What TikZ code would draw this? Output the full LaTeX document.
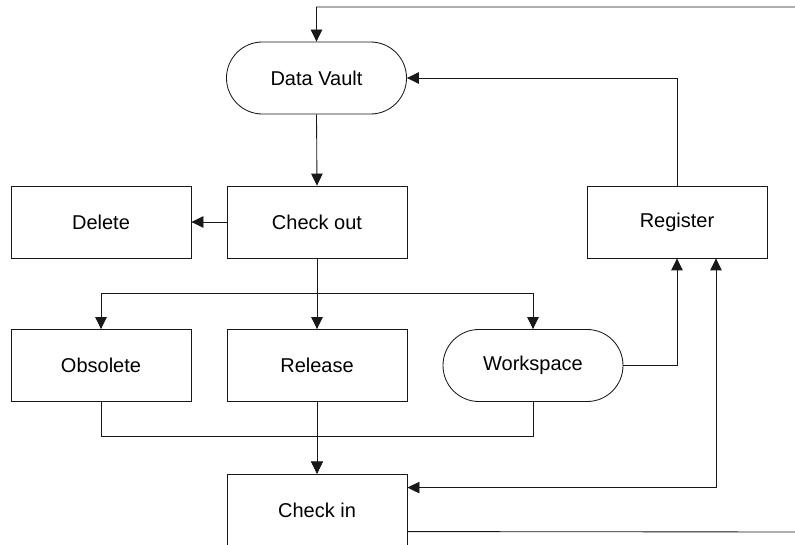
\documentclass[tikz,border=0pt]{standalone}
\usepackage{fontspec}
\setmainfont{Liberation Sans}
\usetikzlibrary{arrows.meta,calc}
\begin{document}
\begin{tikzpicture}[x=1pt,y=-1pt,
  every node/.style={font=\fontsize{20}{24}\selectfont},
  box/.style={draw=black!90,line width=0.85pt,minimum width=180pt,minimum height=72pt,inner sep=0pt,fill=white},
  stadium/.style={box,rounded corners=35.9pt},
  conn/.style={draw=black!90,line width=0.85pt},
  arr/.style={conn,-{Triangle[length=12pt,width=11.5pt]}},
  darr/.style={conn,{Triangle[length=12pt,width=11.5pt]}-{Triangle[length=12pt,width=11.5pt]}}]
\useasboundingbox (0,0) rectangle (795,545);
\clip (0,0) rectangle (795,545);

% nodes
\node[stadium] (dv) at (316.5,78) {Data Vault};
\node[box] (del) at (101,222) {Delete};
\node[box] (co) at (317,222) {Check out};
\node[box] (reg) at (677,222) {Register};
\node[box] (obs) at (101,365.5) {Obsolete};
\node[box] (rel) at (317,365.5) {Release};
\node[stadium] (ws) at (533,365.5) {Workspace};
\node[box] (ci) at (317,510) {Check in};

% branching and merging points
\coordinate (br) at (317,293);
\coordinate (mg) at (317,436.5);
\coordinate (ciR) at ($(ci.north east)+(0,14)$);
\coordinate (ciLow) at ($(ci.north east)+(0,58)$);
\coordinate (regR) at ($(reg.south)+(39,0)$);
\coordinate (farB) at (812,532);
\coordinate (farT) at (812,7);

% connectors
\draw[arr] (dv.south) -- (co.north);
\draw[arr] (co.west) -- (del.east);
\draw[arr] (co.south) -- (br) -| (obs.north);
\draw[arr] (co.south) -- (rel.north);
\draw[arr] (co.south) -- (br) -| (ws.north);
\draw[arr] (obs.south) |- (mg) -- (ci.north);
\draw[arr] (rel.south) -- (ci.north);
\draw[arr] (ws.south) |- (mg) -- (ci.north);
\draw[arr] (ws.east) -| (reg.south);
\draw[arr] (reg.north) |- (dv.east);
\draw[darr] (ciR) -| (regR);
\draw[arr] (ciLow) -- (farB) -- (farT) -| (dv.north);
\end{tikzpicture}
\end{document}
